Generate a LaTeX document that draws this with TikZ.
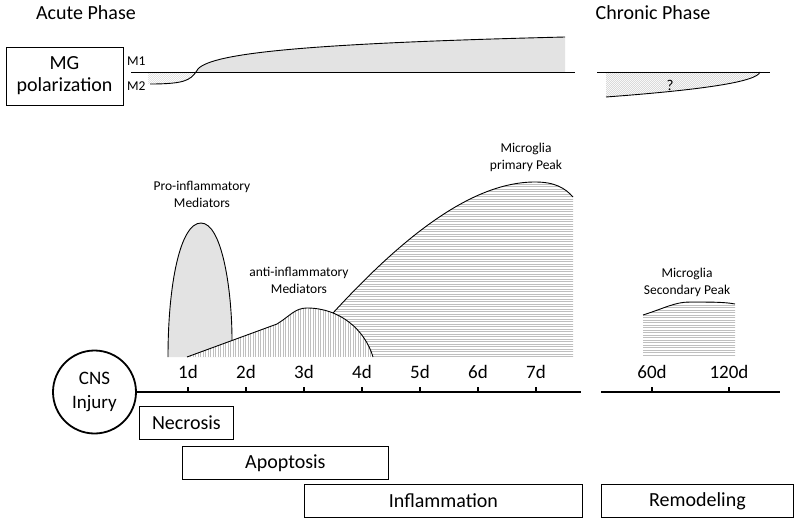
\documentclass[tikz,border=0pt]{standalone}
\usepackage{fontspec}
\setmainfont{Carlito}
\usetikzlibrary{positioning,calc}
\tikzset{
  phase/.style={font=\fontsize{20}{23}\selectfont, anchor=base},
  small/.style={font=\fontsize{13.5}{17}\selectfont, align=center, inner sep=0pt},
  daylbl/.style={font=\fontsize{19}{22}\selectfont, anchor=base, inner sep=0pt},
  stagebox/.style={draw, line width=0.8pt, anchor=north west, inner sep=0pt,
    minimum height=33pt, font=\fontsize{20}{23}\selectfont},
  axis/.style={line width=2.6pt},
  tick/.style={line width=1.8pt},
  outline/.style={line width=0.9pt},
  hatchline/.style={gray!50, line width=0.4pt},
  diagline/.style={gray!45, line width=0.35pt}
}

\begin{document}
\begin{tikzpicture}[x=1pt, y=-1pt]
\useasboundingbox (0,0) rectangle (800,524);

% phase titles
\node[phase] (acute) at (86,20) {Acute Phase};
\node[phase] (chronic) at (653,20) {Chronic Phase};

% MG polarization
\node[draw, line width=0.8pt, minimum width=117pt, minimum height=58pt, align=center,
  font=\fontsize{20}{23}\selectfont, inner sep=0pt] (mg) at (64.5,76) {MG\\[-1pt]polarization};
\node[small, anchor=base west] (m1) at (127,66) {M1};
\node[small, anchor=base west] (m2) at (127,91) {M2};

\coordinate (m1start) at (131,72);
\coordinate (m1end) at (575,72);
\coordinate (cross) at (196,72);
\fill[gray!22] (cross) .. controls (202,55) and (280,44) .. (565,37) -- (565,72) -- cycle;
\begin{scope}
  \clip (148,72) -- (cross) .. controls (190,80) and (185,84) .. (150,84) -- (148,84) -- cycle;
  \foreach \x in {130,132,...,200} \draw[diagline] (\x,90) -- (\x+20,70);
\end{scope}
\draw[outline] (cross) .. controls (202,55) and (280,44) .. (565,37);
\draw[outline] (150,84) .. controls (185,84) and (190,80) .. (cross);
\draw[outline] (m1start) -- (m1end);

% chronic polarization
\coordinate (c1start) at (597,72);
\coordinate (c1end) at (770,72);
\begin{scope}
  \clip (606,72) -- (760,72) .. controls (757,82) and (700,90) .. (606,97) -- cycle;
  \foreach \x in {580,582,...,770} \draw[diagline] (\x,100) -- (\x+30,70);
\end{scope}
\draw[outline] (760,72) .. controls (757,82) and (700,90) .. (606,97);
\draw[outline] (c1start) -- (c1end);
\node[small, anchor=base, font=\fontsize{15}{17}\selectfont] (q) at (670,91) {?};

% pro-inflammatory mediators
\fill[gray!22] (168,357) .. controls (168,285) and (180,223) .. (201,223)
  .. controls (222,223) and (232,290) .. (232,340) -- (232,357) -- cycle;
\draw[outline] (168,357) .. controls (168,285) and (180,223) .. (201,223)
  .. controls (222,223) and (232,290) .. (232,340);

% anti-inflammatory mediators
\begin{scope}
  \clip (187,357) -- (277,324) .. controls (290,316) and (295,308) .. (307,308)
    .. controls (340,308) and (365,330) .. (373,357) -- cycle;
  \fill[white] (180,300) rectangle (380,357);
  \foreach \x in {188,190.5,...,373} \draw[hatchline] (\x,300) -- (\x,357);
\end{scope}

% microglia primary peak
\begin{scope}
  \clip (333,313) .. controls (400,240) and (470,182) .. (535,182)
    .. controls (555,182) and (565,188) .. (573,197) -- (573,357) -- (373,357)
    .. controls (365,335) and (350,318) .. (333,313) -- cycle;
  \foreach \y in {184,186.5,...,357} \draw[hatchline] (330,\y) -- (575,\y);
\end{scope}
\draw[outline] (333,313) .. controls (400,240) and (470,182) .. (535,182)
  .. controls (555,182) and (565,188) .. (573,197);
\draw[outline] (187,357) -- (277,324) .. controls (290,316) and (295,308) .. (307,308)
  .. controls (340,308) and (365,330) .. (373,357);

% microglia secondary peak
\begin{scope}
  \clip (643,315) .. controls (665,308) and (675,302) .. (690,302)
    .. controls (710,302) and (725,302) .. (735,304) -- (735,357) -- (643,357) -- cycle;
  \foreach \y in {300,302.5,...,357} \draw[hatchline] (640,\y) -- (740,\y);
\end{scope}
\draw[outline] (643,315) .. controls (665,308) and (675,302) .. (690,302)
  .. controls (710,302) and (725,302) .. (735,304);

% curve labels
\node[small, anchor=base] (pro) at (202,207) {Pro-inflammatory\\Mediators};
\node[small] (anti) at (299,280) {anti-inflammatory\\Mediators};
\node[small] (prim) at (526,157) {Microglia\\primary Peak};
\node[small] (sec) at (687,282) {Microglia\\Secondary Peak};

% timeline
\node[draw, circle, line width=1.8pt, minimum size=83pt, inner sep=0pt, align=center,
  font=\fontsize{19}{24}\selectfont] (cns) at (94.5,392) {CNS\\Injury};
\coordinate (acuteend) at (581,392);
\draw[axis] (cns.east) -- (acuteend);
\foreach \d in {1,...,7} {
  \coordinate (t\d) at (130+58*\d,392);
  \draw[tick] (t\d) -- ++(0,-5);
  \node[daylbl] (d\d) at (130+58*\d,378) {\d d};
}
\coordinate (chronicstart) at (601,392);
\coordinate (chronicend) at (780,392);
\draw[axis] (chronicstart) -- (chronicend);
\coordinate (t60) at (652,392);
\coordinate (t120) at (729,392);
\draw[tick] (t60) -- ++(0,-5);
\draw[tick] (t120) -- ++(0,-5);
\node[daylbl] (d60) at (652,378) {60d};
\node[daylbl] (d120) at (729,378) {120d};

% stages
\node[stagebox, minimum width=94pt] (necrosis) at (139,406) {Necrosis};
\node[stagebox, minimum width=206pt] (apoptosis) at (182,446) {Apoptosis};
\node[stagebox, minimum width=278pt] (inflammation) at (304,484) {Inflammation};
\node[stagebox, minimum width=192pt] (remodeling) at (601,484) {Remodeling};

\end{tikzpicture}
\end{document}
